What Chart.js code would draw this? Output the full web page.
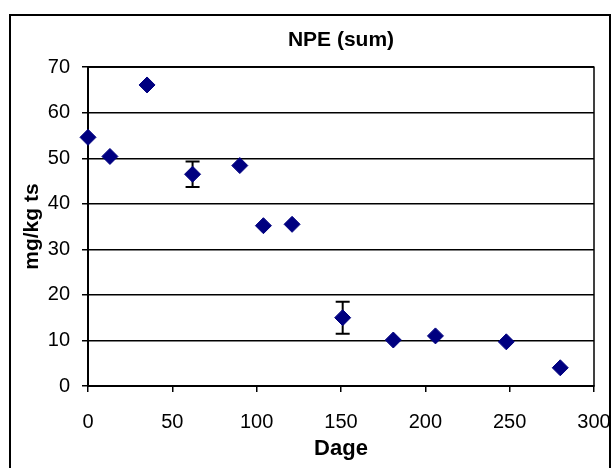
<!DOCTYPE html>
<html>
<head>
<meta charset="utf-8">
<script src="https://cdn.jsdelivr.net/npm/chart.js@4/dist/chart.umd.min.js"></script>
<style>
  html, body { margin: 0; padding: 0; background: #fff; overflow: hidden; }
  #frame { position: absolute; left: 9px; top: 14px; width: 602px; height: 500px;
           border: 2px solid #000; box-sizing: border-box; }
  #wrap { position: absolute; left: 0; top: 0; width: 611px; height: 468px; }
</style>
</head>
<body>
<div id="frame"></div>
<div id="wrap"><canvas id="chart" width="611" height="468"></canvas></div>
<script>
// NPE (sum) over time
const days   = [0, 13, 35, 62, 90, 104, 121, 151, 181, 206, 248, 280];
const values = [54.6, 50.4, 66.1, 46.5, 48.4, 35.2, 35.5, 15.0, 10.1, 11.0, 9.7, 4.0];
const errors = [0, 0, 0, 2.8, 0, 0, 0, 3.5, 0, 0, 0, 0];
const xTicks = [0, 50, 100, 150, 200, 250, 300];
const yTicks = [0, 10, 20, 30, 40, 50, 60, 70];

const FONT = "'Liberation Sans', Arial, sans-serif";

// error bars + plot frame, drawn through the scales
const errorBars = {
    id: 'errorBars',
    beforeDatasetsDraw(chart) {
        const { ctx, chartArea: a, scales: { x, y } } = chart;
        ctx.save();
        ctx.strokeStyle = '#000';
        ctx.lineWidth = 1.5;
        ctx.strokeRect(a.left, a.top, a.right - a.left, a.bottom - a.top);
        ctx.lineWidth = 2;
        days.forEach((d, i) => {
            if (!errors[i]) return;
            const px = x.getPixelForValue(d);
            const top = y.getPixelForValue(values[i] + errors[i]);
            const bot = y.getPixelForValue(values[i] - errors[i]);
            ctx.beginPath();
            ctx.moveTo(px, top); ctx.lineTo(px, bot);
            ctx.moveTo(px - 7, top); ctx.lineTo(px + 7, top);
            ctx.moveTo(px - 7, bot); ctx.lineTo(px + 7, bot);
            ctx.stroke();
        });
        ctx.restore();
    }
};

new Chart(document.getElementById('chart'), {
    type: 'scatter',
    data: {
        datasets: [{
            data: days.map((d, i) => ({ x: d, y: values[i] })),
            pointStyle: 'rectRot',
            pointRadius: 8,
            pointHoverRadius: 8,
            backgroundColor: '#000080',
            borderColor: '#000080',
            borderWidth: 1,
            clip: false
        }]
    },
    options: {
        responsive: false,
        animation: false,
        layout: { padding: { left: 20, right: 4, top: 0, bottom: 6 } },
        plugins: {
            legend: { display: false },
            tooltip: { enabled: false },
            title: {
                display: true, text: 'NPE (sum)', fullSize: false, color: '#000',
                font: { family: FONT, size: 21, weight: 'bold' },
                padding: { top: 28, bottom: 14 }
            }
        },
        scales: {
            x: {
                type: 'linear', min: 0, max: 300,
                afterBuildTicks: s => { s.ticks = xTicks.map(v => ({ value: v })); },
                afterFit: s => { s.height = 76; s.paddingLeft = 0; s.paddingRight = 17; },
                grid: { drawOnChartArea: false, drawTicks: true, tickLength: 6, color: '#000', lineWidth: 1.5 },
                border: { display: true, color: '#000', width: 2 },
                ticks: { color: '#000', padding: 18, maxRotation: 0, font: { family: FONT, size: 20 } },
                title: { display: true, text: 'Dage', color: '#000', padding: 0,
                         font: { family: FONT, size: 22, weight: 'bold' } }
            },
            y: {
                type: 'linear', min: 0, max: 70,
                afterBuildTicks: s => { s.ticks = yTicks.map(v => ({ value: v })); },
                afterFit: s => { s.width = 68; },
                grid: { drawTicks: true, tickLength: 6, color: '#000', lineWidth: 1.5 },
                border: { display: true, color: '#000', width: 2 },
                ticks: { color: '#000', padding: 12, font: { family: FONT, size: 20 } },
                title: { display: true, text: 'mg/kg ts', color: '#000', padding: 0,
                         font: { family: FONT, size: 21, weight: 'bold' } }
            }
        }
    },
    plugins: [errorBars]
});
</script>
</body>
</html>
